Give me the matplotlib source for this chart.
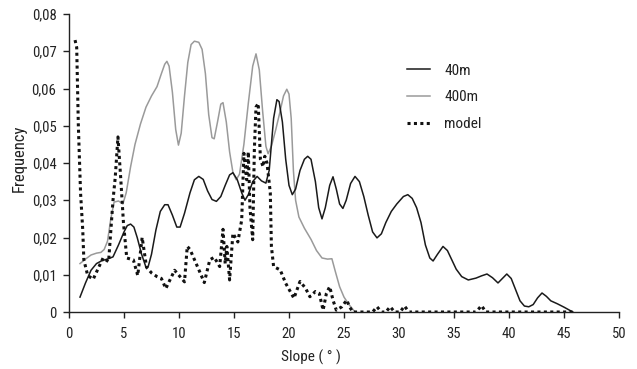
import matplotlib
matplotlib.use("Agg")
import matplotlib.pyplot as plt
from matplotlib.ticker import FuncFormatter, MultipleLocator
from matplotlib import font_manager

names = {f.name for f in font_manager.fontManager.ttflist}
fams = [f for f in ['Liberation Sans Narrow', 'Roboto Condensed', 'Open Sans Condensed'] if f in names]
condensed = bool(fams)
plt.rcParams['font.family'] = fams + ['Liberation Sans', 'DejaVu Sans']

# 40m DEM slope distribution
x_40m = [1, 1.5, 2, 2.5, 3, 3.5, 4, 4.5, 5, 5.3, 5.6, 5.9, 6.2, 6.6, 7.0, 7.2, 7.5, 7.9,
         8.3, 8.7, 9.0, 9.4, 9.8, 10.1, 10.5, 11.0, 11.4, 11.8, 12.2, 12.6, 13.0, 13.4,
         13.8, 14.2, 14.6, 14.9, 15.3, 15.7, 16.0, 16.3, 16.7, 17.1, 17.5, 17.9, 18.2,
         18.6, 18.9, 19.1, 19.4, 19.7, 20.0, 20.3, 20.6, 21.0, 21.4, 21.7, 22.0, 22.4,
         22.7, 23.0, 23.3, 23.7, 24.0, 24.3, 24.6, 24.9, 25.2, 25.6, 26.0, 26.4, 26.8,
         27.2, 27.6, 28.0, 28.4, 28.8, 29.3, 29.8, 30.4, 30.8, 31.2, 31.6, 32.0, 32.4,
         32.8, 33.1, 33.5, 34.0, 34.4, 34.8, 35.2, 35.7, 36.3, 37.0, 37.5, 38.0, 38.5,
         39.0, 39.4, 39.8, 40.2, 40.6, 41.0, 41.4, 41.8, 42.2, 42.6, 43.0, 43.4, 43.8,
         44.4, 45.0, 45.8]
y_40m = [0.004, 0.0078, 0.0112, 0.013, 0.0138, 0.0142, 0.0148, 0.018, 0.0215, 0.0232,
         0.0236, 0.0228, 0.020, 0.0155, 0.012, 0.0122, 0.0155, 0.022, 0.027, 0.0288,
         0.0288, 0.026, 0.0228, 0.0228, 0.0265, 0.032, 0.0355, 0.0364, 0.0356, 0.0325,
         0.0302, 0.0297, 0.031, 0.034, 0.0368, 0.0374, 0.0355, 0.032, 0.030, 0.0315,
         0.035, 0.0364, 0.0352, 0.0346, 0.038, 0.052, 0.057, 0.0565, 0.051, 0.041,
         0.034, 0.0315, 0.033, 0.038, 0.041, 0.0418, 0.041, 0.035, 0.028, 0.025,
         0.028, 0.034, 0.0363, 0.033, 0.029, 0.0278, 0.030, 0.0345, 0.0364, 0.035,
         0.031, 0.026, 0.0215, 0.0199, 0.021, 0.024, 0.027, 0.029, 0.031, 0.0315,
         0.0305, 0.028, 0.024, 0.018, 0.0145, 0.0137, 0.0155, 0.0176, 0.0165, 0.014,
         0.0115, 0.0095, 0.0086, 0.0091, 0.0097, 0.0102, 0.0092, 0.0078, 0.009, 0.0102,
         0.009, 0.006, 0.003, 0.0016, 0.0014, 0.002, 0.0038, 0.0051, 0.0042, 0.003,
         0.0022, 0.0013, 0.0]

# 400m DEM slope distribution
x_400m = [1, 1.5, 2, 2.5, 2.9, 3.2, 3.5, 3.8, 4.1, 4.5, 4.9, 5.2, 5.6, 6.0, 6.5, 7.0, 7.5,
          8.0, 8.4, 8.7, 8.9, 9.1, 9.4, 9.7, 9.95, 10.2, 10.5, 10.8, 11.1, 11.4, 11.8,
          12.1, 12.4, 12.7, 13.0, 13.2, 13.5, 13.8, 14.0, 14.3, 14.6, 14.9, 15.2, 15.5,
          15.9, 16.3, 16.7, 17.0, 17.3, 17.6, 17.9, 18.1, 18.4, 18.8, 19.2, 19.5, 19.8,
          20.0, 20.2, 20.4, 20.6, 20.9, 21.4, 22.0, 22.5, 23.0, 23.5, 23.9, 24.2, 24.6,
          25.0, 25.4, 26.0]
y_400m = [0.013, 0.0142, 0.0153, 0.0158, 0.016, 0.0168, 0.019, 0.025, 0.0295, 0.0298,
          0.029, 0.032, 0.039, 0.045, 0.0505, 0.055, 0.058, 0.0605, 0.064, 0.0665,
          0.0673, 0.066, 0.059, 0.049, 0.0448, 0.048, 0.058, 0.067, 0.0718, 0.0727,
          0.0724, 0.0705, 0.064, 0.053, 0.0468, 0.0465, 0.051, 0.0558, 0.0562, 0.051,
          0.043, 0.0375, 0.0355, 0.037, 0.045, 0.056, 0.066, 0.0693, 0.065, 0.054,
          0.0445, 0.0425, 0.0445, 0.049, 0.054, 0.058, 0.0598, 0.0585, 0.052, 0.038,
          0.030, 0.0255, 0.0225, 0.0195, 0.0165, 0.0145, 0.0142, 0.0143, 0.011, 0.0068,
          0.004, 0.0022, 0.0]

# model slope distribution
x_model = [0.55, 0.7, 0.85, 1.05, 1.25, 1.35, 1.7, 2.2, 2.7, 3.1, 3.6, 4.0, 4.2, 4.45,
           4.7, 4.95, 5.25, 5.85, 6.25, 6.65, 7.05, 7.5, 8.0, 8.4, 8.8, 9.6, 10.5, 10.75,
           11.0, 11.75, 12.3, 12.8, 13.2, 13.7, 14.0, 14.2, 14.35, 14.6, 14.9, 15.35,
           15.7, 15.9, 16.15, 16.3, 16.45, 16.7, 16.85, 17.0, 17.2, 17.4, 17.65, 17.8,
           18.0, 18.3, 18.4, 18.6, 19.2, 19.7, 20.45, 21.0, 21.5, 21.9, 22.4, 22.75,
           23.1, 23.4, 23.7, 24.0, 24.3, 24.8, 25.25, 25.5, 25.8, 27.6, 28.0, 28.4,
           28.8, 29.2, 29.6, 30.1, 30.5, 30.9, 37.0, 37.5, 37.9, 46.0]
y_model = [0.073, 0.071, 0.05, 0.032, 0.022, 0.014, 0.0098, 0.0088, 0.012, 0.0145,
           0.0135, 0.030, 0.036, 0.047, 0.036, 0.024, 0.0145, 0.014, 0.0098, 0.020,
           0.012, 0.0105, 0.0095, 0.009, 0.0063, 0.0112, 0.0081, 0.0176, 0.0168,
           0.0117, 0.0079, 0.014, 0.0147, 0.0122, 0.0222, 0.013, 0.0176, 0.0086,
           0.0211, 0.0188, 0.0247, 0.0426, 0.0355, 0.043, 0.028, 0.0194, 0.0435,
           0.055, 0.056, 0.041, 0.039, 0.0418, 0.040, 0.032, 0.0176, 0.0122, 0.0113,
           0.0077, 0.0037, 0.0082, 0.0064, 0.0041, 0.0055, 0.005, 0.0005, 0.005,
           0.0068, 0.0032, 0.0005, 0.0014, 0.0032, 0.0014, 0.0, 0.0, 0.0014, 0.0,
           0.0, 0.0014, 0.0, 0.0, 0.0016, 0.0, 0.0, 0.0017, 0.0, 0.0]

fs_tick = 10.5 if condensed else 9.5
fs_xlab = 11 if condensed else 9.5
fs_ylab = 12
fs_leg = 11 if condensed else 10

fig = plt.figure(figsize=(6.37, 3.69), dpi=100)
ax = fig.add_axes([69/637, 1 - 312/369, 550/637, 298/369])

ax.plot(x_400m, y_400m, color='#9a9a9a', lw=1.1, label='400m', zorder=2)
ax.plot(x_40m, y_40m, color='#1a1a1a', lw=1.1, label='40m', zorder=3)
ax.plot(x_model, y_model, color='#111111', lw=2.2, linestyle=(0, (1, 1.1)),
        dash_capstyle='butt', label='model', zorder=4)

ax.set_xlim(0, 50)
ax.set_ylim(0, 0.08)
ax.xaxis.set_major_locator(MultipleLocator(5))
ax.yaxis.set_major_locator(MultipleLocator(0.01))
ax.yaxis.set_major_formatter(FuncFormatter(lambda v, p: '0' if abs(v) < 1e-9 else f'{v:.2f}'.replace('.', ',')))

for s in ['top', 'right']:
    ax.spines[s].set_visible(False)
for s in ['left', 'bottom']:
    ax.spines[s].set_color('#222222')
    ax.spines[s].set_linewidth(1.0)
ax.tick_params(axis='both', direction='out', length=4, width=1.0, color='#222222',
               labelsize=fs_tick, labelcolor='#222222', pad=5)
ax.tick_params(axis='x', pad=7)

ax.set_xlabel('Slope ( ° )', fontsize=fs_xlab, color='#222222')
ax.xaxis.set_label_coords(0.44, -0.125)
ax.set_ylabel('Frequency', fontsize=fs_ylab, color='#222222')
ax.yaxis.set_label_coords(-0.076, 0.517)

handles, labels = ax.get_legend_handles_labels()
order = [1, 0, 2]
leg = ax.legend([handles[i] for i in order], [labels[i] for i in order],
                loc='upper left', bbox_to_anchor=(0.589, 0.88), frameon=False,
                fontsize=fs_leg, handlelength=1.55, labelspacing=0.85, handletextpad=0.9)
for t in leg.get_texts():
    t.set_color('#222222')

fig.savefig('out.png', dpi=100)
